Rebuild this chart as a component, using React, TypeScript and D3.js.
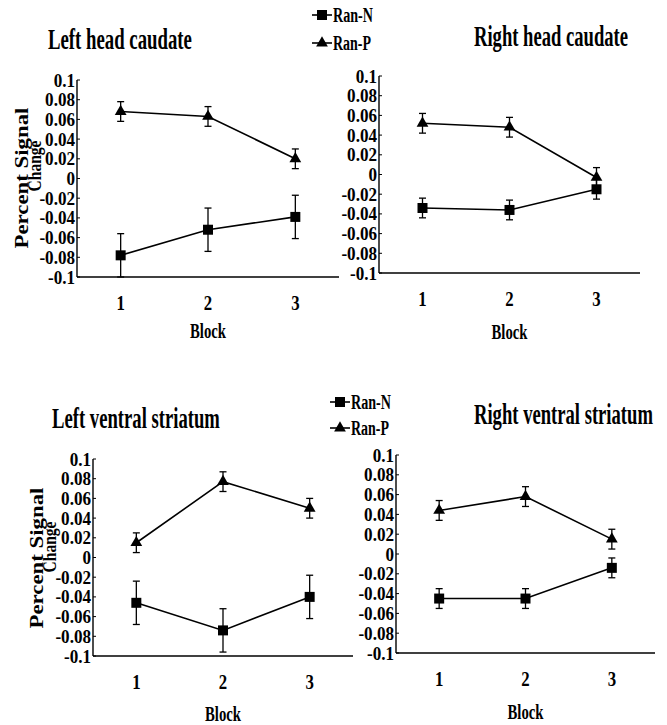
import React, { useLayoutEffect, useRef, useState } from 'react';
import * as d3 from 'd3';

// data
const blocks = ['1', '2', '3'];
const yTicks = [0.1, 0.08, 0.06, 0.04, 0.02, 0, -0.02, -0.04, -0.06, -0.08, -0.1];
const yTickLabels = ['0.1', '0.08', '0.06', '0.04', '0.02', '0', '-0.02', '-0.04', '-0.06', '-0.08', '-0.1'];
const seriesNames = ['Ran-N', 'Ran-P'];

const leftHeadN = [-0.078, -0.052, -0.039];
const leftHeadNErr = [0.022, 0.022, 0.022];
const leftHeadP = [0.068, 0.063, 0.02];
const leftHeadPErr = [0.01, 0.01, 0.01];

const rightHeadN = [-0.034, -0.036, -0.015];
const rightHeadNErr = [0.01, 0.01, 0.01];
const rightHeadP = [0.052, 0.048, -0.003];
const rightHeadPErr = [0.01, 0.01, 0.01];

const leftVentralN = [-0.046, -0.074, -0.04];
const leftVentralNErr = [0.022, 0.022, 0.022];
const leftVentralP = [0.015, 0.077, 0.05];
const leftVentralPErr = [0.01, 0.01, 0.01];

const rightVentralN = [-0.045, -0.045, -0.014];
const rightVentralNErr = [0.01, 0.01, 0.01];
const rightVentralP = [0.044, 0.058, 0.015];
const rightVentralPErr = [0.01, 0.01, 0.01];

const FONT = '"Liberation Serif", "Times New Roman", serif';

// layout of each panel (axis box, title, labels)
const panels = [
  {
    title: 'Left head caudate', titleX: 48, titleY: 49, titleW: 144,
    x0: 77, x1: 339, yTop: 80, yBot: 277, blockY: 338, yLabel: { x1: 22, y1: 178, x2: 35, y2: 166 },
    n: leftHeadN, nErr: leftHeadNErr, p: leftHeadP, pErr: leftHeadPErr
  },
  {
    title: 'Right head caudate', titleX: 474, titleY: 46, titleW: 154,
    x0: 379, x1: 640, yTop: 76, yBot: 273, blockY: 339, yLabel: null,
    n: rightHeadN, nErr: rightHeadNErr, p: rightHeadP, pErr: rightHeadPErr
  },
  {
    title: 'Left ventral striatum', titleX: 52, titleY: 428, titleW: 168,
    x0: 93, x1: 353, yTop: 459, yBot: 656, blockY: 721, yLabel: { x1: 37, y1: 558, x2: 50, y2: 547 },
    n: leftVentralN, nErr: leftVentralNErr, p: leftVentralP, pErr: leftVentralPErr
  },
  {
    title: 'Right ventral striatum', titleX: 474, titleY: 424, titleW: 179,
    x0: 396, x1: 655, yTop: 455, yBot: 653, blockY: 719, yLabel: null,
    n: rightVentralN, nErr: rightVentralNErr, p: rightVentralP, pErr: rightVentralPErr
  }
];

const legends = [
  { x: 312, y: 15, gap: 28 },
  { x: 330, y: 402, gap: 26 }
];

const squarePath = d3.symbol().type(d3.symbolSquare).size(100)();
const trianglePath = d3.symbol().type(d3.symbolTriangle).size(60)();

// text squeezed horizontally to a given width (the figure uses a condensed Times)
const FitText = ({ x, y, width, rotate = 0, anchor = 'start', size, baseline = 'auto', children }) => {
  const ref = useRef(null);
  const [s, setS] = useState(1);
  useLayoutEffect(() => {
    const w = ref.current ? ref.current.getComputedTextLength() : 0;
    if (w) setS(width / w);
  }, [width, children, size]);
  return (
    <text ref={ref} transform={`translate(${x},${y}) rotate(${rotate}) scale(${s},1)`} textAnchor={anchor}
      dominantBaseline={baseline} fontSize={size} fontWeight="bold" fontFamily={FONT}>{children}</text>
  );
};

const Panel = ({ cfg }) => {
  const x = d3.scaleBand().domain(blocks).range([cfg.x0, cfg.x1]);
  const y = d3.scaleLinear().domain([-0.1, 0.1]).range([cfg.yBot, cfg.yTop]);
  const cx = (i) => x(blocks[i]) + x.bandwidth() / 2;
  const line = d3.line().x((d, i) => cx(i)).y(d => y(d));

  const series = [
    { vals: cfg.n, err: cfg.nErr, marker: squarePath },
    { vals: cfg.p, err: cfg.pErr, marker: trianglePath }
  ];

  return (
    <g>
      <FitText x={cfg.titleX} y={cfg.titleY} width={cfg.titleW} size={29}>{cfg.title}</FitText>

      {/* axes */}
      <line x1={cfg.x0} x2={cfg.x0} y1={cfg.yTop} y2={cfg.yBot} stroke="#000" strokeWidth={1.4} />
      <line x1={cfg.x0} x2={cfg.x1} y1={cfg.yBot} y2={cfg.yBot} stroke="#000" strokeWidth={1.6} />
      {yTicks.map((t, i) => (
        <g key={i}>
          <line x1={cfg.x0} x2={cfg.x0 + 3} y1={y(t)} y2={y(t)} stroke="#000" strokeWidth={1} />
          <text transform={`translate(${cfg.x0 - 2},${y(t) + 6.5}) scale(0.9,1)`} textAnchor="end"
            fontSize={19} fontWeight="bold" fontFamily={FONT}>{yTickLabels[i]}</text>
        </g>
      ))}
      {blocks.map((b, i) => (
        <text key={b} transform={`translate(${cx(i)},${cfg.yBot + 33}) scale(0.8,1)`} textAnchor="middle"
          fontSize={21} fontWeight="bold" fontFamily={FONT}>{b}</text>
      ))}
      <FitText x={(cfg.x0 + cfg.x1) / 2} y={cfg.blockY} width={36} anchor="middle" size={22}>Block</FitText>

      {cfg.yLabel && (
        <g>
          <FitText x={cfg.yLabel.x1} y={cfg.yLabel.y1} rotate={-90} width={141} anchor="middle"
            baseline="central" size={18}>Percent Signal</FitText>
          <FitText x={cfg.yLabel.x2} y={cfg.yLabel.y2} rotate={-90} width={51} anchor="middle"
            baseline="central" size={18}>Change</FitText>
        </g>
      )}

      {/* series */}
      {series.map((s, si) => (
        <g key={si}>
          <path d={line(s.vals)} fill="none" stroke="#000" strokeWidth={1.6} />
          {s.vals.map((v, i) => (
            <g key={i}>
              <line x1={cx(i)} x2={cx(i)} y1={y(v + s.err[i])} y2={y(v - s.err[i])} stroke="#000" strokeWidth={1.3} />
              <line x1={cx(i) - 3.5} x2={cx(i) + 3.5} y1={y(v + s.err[i])} y2={y(v + s.err[i])} stroke="#000" strokeWidth={1.3} />
              <line x1={cx(i) - 3.5} x2={cx(i) + 3.5} y1={y(v - s.err[i])} y2={y(v - s.err[i])} stroke="#000" strokeWidth={1.3} />
              <path d={s.marker} transform={`translate(${cx(i)},${y(v)})`} fill="#000" />
            </g>
          ))}
        </g>
      ))}
    </g>
  );
};

const Legend = ({ cfg }) => (
  <g>
    {seriesNames.map((name, i) => {
      const yy = cfg.y + i * cfg.gap;
      return (
        <g key={name}>
          <line x1={cfg.x} x2={cfg.x + 20} y1={yy} y2={yy} stroke="#000" strokeWidth={1.6} />
          <path d={i === 0 ? squarePath : trianglePath} transform={`translate(${cfg.x + 10},${yy})`} fill="#000" />
          <FitText x={cfg.x + 21} y={yy + 7} width={i === 0 ? 40 : 38} size={21}>{name}</FitText>
        </g>
      );
    })}
  </g>
);

export default function App() {
  return (
    <div style={{ position: 'absolute', left: 0, top: 0 }}>
      <svg width={667} height={725} style={{ display: 'block', background: '#fff' }}>
        {panels.map((p, i) => <Panel key={i} cfg={p} />)}
        {legends.map((l, i) => <Legend key={i} cfg={l} />)}
      </svg>
    </div>
  );
}
